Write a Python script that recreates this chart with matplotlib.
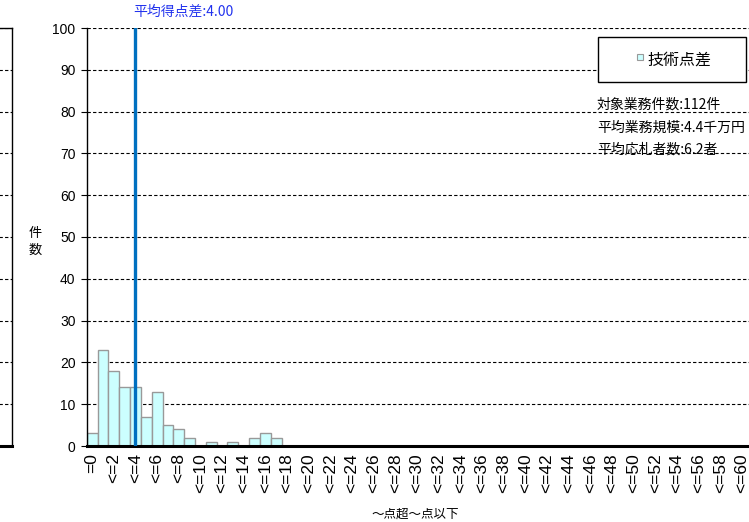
import matplotlib
matplotlib.use("Agg")
import matplotlib.pyplot as plt
from matplotlib.patches import Rectangle

plt.rcParams['font.family'] = ['Noto Sans CJK JP', 'DejaVu Sans']

# category labels "=0", "<=1", ... "<=60"
categories = ['=0'] + ['<=%d' % i for i in range(1, 61)]
counts = [3, 23, 18, 14, 14, 7, 13, 5, 4, 2,
          0, 1, 0, 1, 0, 2, 3, 2, 0, 0,
          0, 0, 0, 0, 0, 0, 0, 0, 0, 0,
          0, 0, 0, 0, 0, 0, 0, 0, 0, 0,
          0, 0, 0, 0, 0, 0, 0, 0, 0, 0,
          0, 0, 0, 0, 0, 0, 0, 0, 0, 0,
          0]
mean_diff = 4.00
series_name = '技術点差'
info_lines = ['対象業務件数:112件', '平均業務規模:4.4千万円', '平均応札者数:6.2者']
y_ticks = list(range(0, 101, 10))

W, H = 749, 522
fig = plt.figure(figsize=(W / 100, H / 100), dpi=100)

cat_px = 10.83
left_px, bottom_px, top_px = 86.7, 446, 28
n_show = 63
ax = fig.add_axes([left_px / W, (H - bottom_px) / H,
                   n_show * cat_px / W, (bottom_px - top_px) / H])

xs = list(range(len(categories)))
ax.bar(xs, counts, width=1.0, color='#CCFFFF', edgecolor='#999999', linewidth=1.0, zorder=2)
ax.axvline(mean_diff, color='#0070C0', linewidth=2.4, zorder=3)

ax.set_xlim(-0.5, n_show - 0.5)
ax.set_ylim(0, 100)
ax.set_yticks(y_ticks)
ax.set_yticklabels([str(v) for v in y_ticks], fontsize=10, family=['Liberation Sans', 'DejaVu Sans'])
ax.yaxis.grid(True, linestyle=(0, (3, 2)), color='black', linewidth=0.8, zorder=1)
ax.tick_params(axis='y', direction='out', length=4, width=0.8, pad=4)

ax.set_xticks(xs[::2])
ax.set_xticklabels(categories[::2], rotation=90, fontsize=12.5,
                   family=['Liberation Sans', 'DejaVu Sans'], va='top', ha='center')
ax.tick_params(axis='x', length=0, pad=5)

ax.spines['top'].set_visible(False)
ax.spines['right'].set_visible(False)
ax.spines['left'].set_linewidth(1.0)
ax.spines['bottom'].set_linewidth(2.2)

# partial neighbouring chart at the far left
ax_l = fig.add_axes([(12 - 62 * cat_px) / W, (H - bottom_px) / H,
                     62 * cat_px / W, (bottom_px - top_px) / H])
ax_l.set_xlim(-0.5, 61.5)
ax_l.set_ylim(0, 100)
ax_l.set_yticks(y_ticks)
ax_l.yaxis.grid(True, linestyle=(0, (3, 2)), color='black', linewidth=0.8)
ax_l.set_xticks([60])
ax_l.set_xticklabels([categories[60]], rotation=90, fontsize=12.5,
                     family=['Liberation Sans', 'DejaVu Sans'], va='top')
ax_l.tick_params(axis='x', length=0, pad=5)
ax_l.tick_params(axis='y', length=0, labelleft=False)
ax_l.spines['left'].set_visible(False)
ax_l.spines['bottom'].set_linewidth(2.2)
ax_l.spines['top'].set_linewidth(1.0)
ax_l.spines['right'].set_linewidth(1.0)

# titles and labels
fig.text(133 / W, 1 - 12 / H, '平均得点差:%.2f' % mean_diff, color='#2233EE',
         fontsize=10, ha='left', va='center')
fig.text(35 / W, 1 - 242 / H, '件\n数', fontsize=9.5, ha='center', va='center', linespacing=1.3)
fig.text(415 / W, 1 - 514 / H, '～点超～点以下', fontsize=9, ha='center', va='center')

# legend box
fig.patches.append(Rectangle((598 / W, 1 - 82 / H), 148 / W, 45 / H, transform=fig.transFigure,
                             facecolor='white', edgecolor='black', linewidth=1.0, zorder=5))
fig.patches.append(Rectangle((636.5 / W, 1 - 59.5 / H), 6 / W, 6 / H, transform=fig.transFigure,
                             facecolor='#CCFFFF', edgecolor='#999999', linewidth=0.8, zorder=6))
fig.text(647 / W, 1 - 60 / H, series_name, fontsize=11.5, ha='left', va='center', zorder=7)

for i, line in enumerate(info_lines):
    fig.text(597 / W, 1 - (105 + 22.5 * i) / H, line, fontsize=10, ha='left', va='center')

fig.savefig('out.png', dpi=100)
